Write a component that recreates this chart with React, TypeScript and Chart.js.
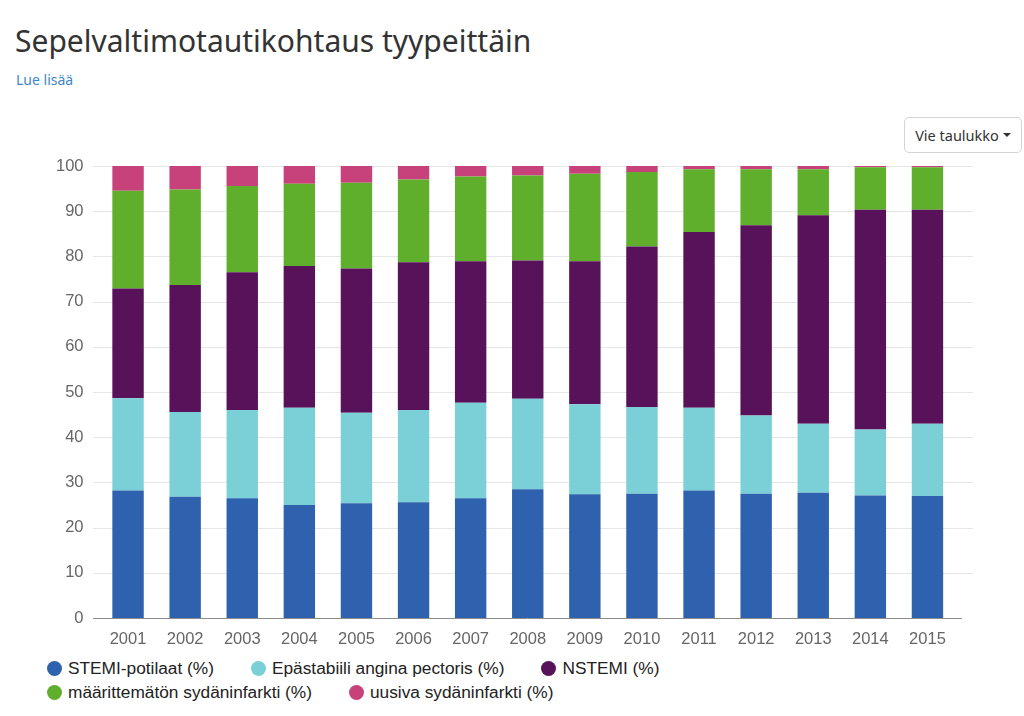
import React, { useEffect, useRef } from "react";
import { Chart, registerables } from "chart.js";

Chart.register(...registerables);

const years = ["2001","2002","2003","2004","2005","2006","2007","2008","2009","2010","2011","2012","2013","2014","2015"];
const stemi = [28.2,26.8,26.5,25.0,25.4,25.6,26.5,28.5,27.4,27.5,28.2,27.5,27.7,27.1,27.0];
const epastabiili = [20.4,18.8,19.5,21.5,20.0,20.4,21.1,20.0,19.9,19.2,18.3,17.3,15.3,14.6,16.0];
const nstemi = [24.3,28.1,30.5,31.4,31.9,32.7,31.3,30.6,31.6,35.5,38.9,42.1,46.1,48.6,47.3];
const maarittematon = [21.6,21.1,19.1,18.2,19.0,18.3,18.8,18.8,19.4,16.5,13.9,12.4,10.2,9.4,9.4];
const uusiva = [5.5,5.2,4.4,3.9,3.7,3.0,2.3,2.1,1.7,1.3,0.7,0.7,0.7,0.3,0.3];

const seriesNames = [
  "STEMI-potilaat (%)",
  "Epästabiili angina pectoris (%)",
  "NSTEMI (%)",
  "määrittemätön sydäninfarkti (%)",
  "uusiva sydäninfarkti (%)",
];
const seriesColors = ["#2e62ae", "#7bd0d8", "#581259", "#5faf2d", "#c7417a"];
const seriesData = [stemi, epastabiili, nstemi, maarittematon, uusiva];
const yTicks = [0,10,20,30,40,50,60,70,80,90,100];

const gridPlugin = {
  id: "customGrid",
  beforeDatasetsDraw(chart: any) {
    const ctx = chart.ctx;
    const y = chart.scales.y;
    ctx.save();
    ctx.lineWidth = 1;
    yTicks.forEach((v) => {
      if (v === 0) return;
      const py = Math.round(y.getPixelForValue(v)) + 0.5;
      ctx.strokeStyle = "#e6e6e6";
      ctx.beginPath();
      ctx.moveTo(93, py);
      ctx.lineTo(973, py);
      ctx.stroke();
    });
    ctx.restore();
  },
  afterDatasetsDraw(chart: any) {
    const ctx = chart.ctx;
    const y = chart.scales.y;
    ctx.save();
    const py = Math.round(y.getPixelForValue(0)) + 0.5;
    ctx.strokeStyle = "#8c8c8c";
    ctx.lineWidth = 1;
    ctx.beginPath();
    ctx.moveTo(93, py);
    ctx.lineTo(962, py);
    ctx.stroke();
    ctx.restore();
  },
};

export default function App() {
  const ref = useRef<HTMLCanvasElement | null>(null);

  useEffect(() => {
    if (!ref.current) return;
    const chart = new Chart(ref.current, {
      type: "bar",
      data: {
        labels: years,
        datasets: seriesData.map((d, i) => ({
          label: seriesNames[i],
          data: d,
          backgroundColor: seriesColors[i],
          borderWidth: 0,
          barPercentage: 0.55,
          categoryPercentage: 1,
        })),
      },
      options: {
        responsive: false,
        animation: false,
        layout: { padding: { top: 26, left: 0, right: 68, bottom: 0 } },
        plugins: { legend: { display: false }, tooltip: { enabled: false } },
        scales: {
          x: {
            stacked: true,
            grid: { display: false },
            border: { display: false },
            ticks: {
              color: "#666666",
              padding: 4,
              font: { family: "'Liberation Sans', Arial, sans-serif", size: 16.5 },
            },
            afterFit(scale: any) {
              scale.height = 32;
            },
          },
          y: {
            stacked: true,
            min: 0,
            max: 100,
            grid: { display: false },
            border: { display: false },
            ticks: {
              stepSize: 10,
              color: "#666666",
              padding: 8,
              font: { family: "'Liberation Sans', Arial, sans-serif", size: 16.5 },
            },
            afterFit(scale: any) {
              scale.width = 99.5;
            },
          },
        },
      },
      plugins: [gridPlugin],
    });
    return () => chart.destroy();
  }, []);

  const legendRow = (idx: number[]) => (
    <div style={{ display: "flex", alignItems: "center", height: 24 }}>
      {idx.map((i) => (
        <div key={i} style={{ display: "flex", alignItems: "center", marginRight: 37 }}>
          <span
            style={{
              width: 15,
              height: 15,
              borderRadius: "50%",
              background: seriesColors[i],
              display: "inline-block",
              marginRight: 6,
            }}
          />
          <span style={{ fontFamily: "'Liberation Sans', Arial, sans-serif", fontSize: 17.3, color: "#222" }}>
            {seriesNames[i]}
          </span>
        </div>
      ))}
    </div>
  );

  return (
    <div style={{ position: "absolute", left: 0, top: 0, width: 1024, height: 716, background: "#fff", overflow: "hidden" }}>
      <div
        style={{
          position: "absolute",
          left: 15,
          top: 19,
          fontFamily: "'Noto Sans', sans-serif",
          fontSize: 30,
          color: "#333",
          whiteSpace: "nowrap",
          lineHeight: "44px",
        }}
      >
        Sepelvaltimotautikohtaus tyypeittäin
      </div>
      <div
        style={{
          position: "absolute",
          left: 16,
          top: 70,
          fontFamily: "'Noto Sans', sans-serif",
          fontSize: 14,
          color: "#3d87c6",
          lineHeight: "20px",
        }}
      >
        Lue lisää
      </div>
      <div
        style={{
          position: "absolute",
          left: 904,
          top: 117,
          width: 118,
          height: 36,
          border: "1px solid #d4d4d4",
          borderRadius: 5,
          boxSizing: "border-box",
          display: "flex",
          alignItems: "center",
          justifyContent: "center",
          fontFamily: "'Noto Sans', sans-serif",
          fontSize: 14.5,
          color: "#333",
        }}
      >
        Vie taulukko
        <span style={{ display: "inline-block", marginLeft: 4, borderLeft: "4px solid transparent", borderRight: "4px solid transparent", borderTop: "4px solid #333" }} />
      </div>
      <canvas ref={ref} width={1024} height={510} style={{ position: "absolute", left: 0, top: 140, width: 1024, height: 510 }} />
      <div style={{ position: "absolute", left: 47, top: 656 }}>
        {legendRow([0, 1, 2])}
        {legendRow([3, 4])}
      </div>
    </div>
  );
}
